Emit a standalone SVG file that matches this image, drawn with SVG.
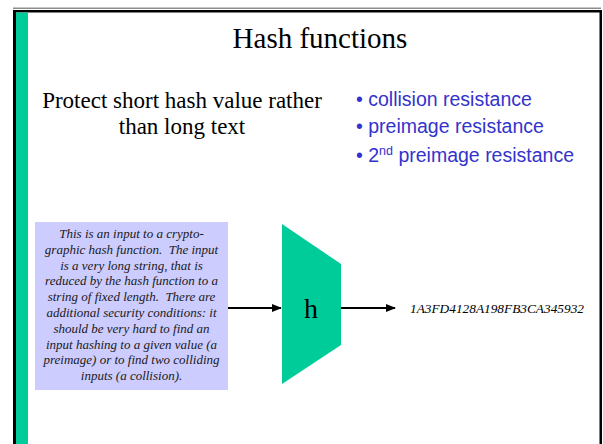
<svg xmlns="http://www.w3.org/2000/svg" width="603" height="444" viewBox="0 0 603 444">
  <style>
    .serif { font-family: "Liberation Serif", "Times New Roman", serif; fill: #000; }
    .bullet { font-family: "Liberation Sans", Arial, sans-serif; font-size: 19.5px; fill: #3333CC; }
    .note { font-family: "Liberation Serif", "Times New Roman", serif; font-style: italic; font-size: 13px; fill: #1a1a1a; text-anchor: middle; white-space: pre; }
    .conn { stroke: #000; stroke-width: 2; fill: none; marker-end: url(#arrow); }
  </style>
  <defs>
    <marker id="arrow" viewBox="0 0 10 10" refX="9" refY="5" markerWidth="5" markerHeight="5" orient="auto" markerUnits="strokeWidth">
      <path d="M0,1 L10,5 L0,9 z" fill="#000"/>
    </marker>
  </defs>

  <!-- page background and frame -->
  <rect x="0" y="0" width="603" height="444" fill="#fff"/>
  <rect x="13" y="7.5" width="588" height="1.5" fill="#8c8c8c"/>
  <rect x="13" y="10" width="589" height="2.5" fill="#000"/>
  <rect x="13" y="10" width="3" height="434" fill="#000"/>
  <rect x="599.5" y="10" width="2.5" height="434" fill="#000"/>
  <rect x="16" y="12.5" width="12" height="432" fill="#00CC99"/>

  <!-- title -->
  <text class="serif" x="320" y="48" font-size="29" text-anchor="middle">Hash functions</text>

  <!-- left statement -->
  <g id="statement">
    <text class="serif" x="182" y="108" font-size="23" text-anchor="middle">Protect short hash value rather</text>
    <text class="serif" x="182" y="134" font-size="23" text-anchor="middle">than long text</text>
  </g>

  <!-- property list -->
  <g id="properties">
    <text class="bullet" x="356" y="106">• collision resistance</text>
    <text class="bullet" x="356" y="133">• preimage resistance</text>
    <text class="bullet" x="356" y="162">• 2<tspan font-size="12.5" dy="-7.5">nd</tspan><tspan dy="7.5"> preimage resistance</tspan></text>
  </g>

  <!-- input message -->
  <g id="input">
    <rect x="35" y="222" width="193" height="168" fill="#CCCCFF"/>
    <text class="note" x="131.5" y="238">This is an input to a crypto-</text>
    <text class="note" x="131.5" y="253.8">graphic hash function.  The input</text>
    <text class="note" x="131.5" y="269.6">is a very long string, that is</text>
    <text class="note" x="131.5" y="285.4">reduced by the hash function to a</text>
    <text class="note" x="131.5" y="301.2">string of fixed length.  There are</text>
    <text class="note" x="131.5" y="317">additional security conditions: it</text>
    <text class="note" x="131.5" y="332.8">should be very hard to find an</text>
    <text class="note" x="131.5" y="348.6">input hashing to a given value (a</text>
    <text class="note" x="131.5" y="364.4">preimage) or to find two colliding</text>
    <text class="note" x="131.5" y="380.2">inputs (a collision).</text>
  </g>

  <!-- hash function block -->
  <g id="hash">
    <polygon points="282,224 341,264 341,345 282,384" fill="#00CC99"/>
    <text class="serif" x="311" y="318" font-size="28" text-anchor="middle">h</text>
  </g>

  <!-- digest -->
  <g id="digest">
    <text class="serif" x="410" y="313" font-size="13.5" font-style="italic" textLength="174" lengthAdjust="spacingAndGlyphs">1A3FD4128A198FB3CA345932</text>
  </g>

  <!-- connectors -->
  <g id="connectors">
    <line class="conn" x1="228" y1="308" x2="281" y2="308"/>
    <line class="conn" x1="341" y1="308" x2="395" y2="308"/>
  </g>
</svg>
